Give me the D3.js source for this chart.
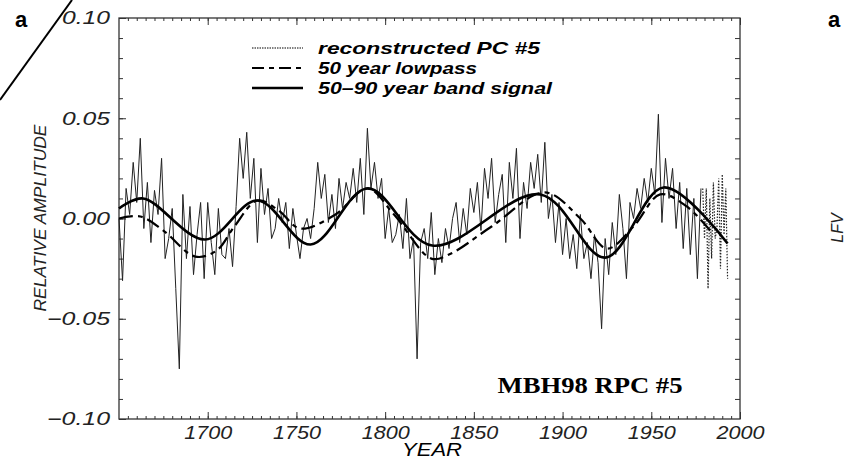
<!DOCTYPE html>
<html><head><meta charset="utf-8">
<script src="https://cdn.jsdelivr.net/npm/d3@7"></script>
<style>body{margin:0;background:#fff}</style>
</head><body>
<svg width="861" height="460" font-family="Liberation Sans, Arial, sans-serif"></svg>
<script>
// reconstructed PC #5, every 2 years 1650-1978
const pcStart = 1650, pcStep = 2;
const pcValues = [
  0.000,-0.031,0.015,0.002,0.028, 0.008,0.040,-0.005,0.018,-0.012,
  0.014,0.002,0.030,-0.020,-0.010, 0.005,-0.035,-0.075,0.012,-0.020,
  0.006,-0.028,-0.008,0.008,-0.030, 0.008,-0.012,-0.028,0.005,-0.018,
  -0.020,-0.005,-0.024,0.006,0.040, 0.020,0.043,0.010,0.030,-0.012,
  0.025,0.002,0.015,-0.010,-0.005, 0.010,-0.002,0.008,-0.015,0.005,
  -0.008,-0.020,-0.005,0.000,-0.010, 0.005,0.028,0.010,0.022,-0.002,
  0.012,-0.005,0.020,0.005,0.018, 0.010,0.025,0.008,0.030,0.002,
  0.045,0.015,0.028,0.010,0.020, -0.010,0.005,-0.012,-0.008,0.002,
  -0.015,0.010,-0.020,-0.010,-0.070, -0.012,-0.005,-0.020,0.003,-0.028,
  -0.010,-0.022,-0.005,-0.015,0.000, 0.008,-0.012,0.005,-0.008,0.015,
  0.003,0.018,-0.006,0.025,0.010, 0.030,-0.002,0.012,0.022,-0.012,
  0.028,0.010,0.035,-0.010,0.018, 0.005,0.028,0.015,0.032,0.008,
  0.038,0.000,0.012,-0.012,0.008, -0.018,0.000,-0.020,-0.008,-0.025,
  0.002,-0.020,-0.012,-0.030,-0.008, -0.022,-0.055,-0.010,-0.028,-0.002,
  -0.018,0.012,-0.005,-0.030,0.008, 0.000,0.015,0.005,0.020,0.008,
  0.025,0.012,0.052,-0.002,0.030, 0.010,0.025,-0.005,0.018,-0.015,
  0.015,-0.018,0.010,-0.030,0.015
];
// dotted tail, yearly 1979-1993
const tailYears = [1979,1980,1981,1982,1983,1984,1985,1986,1987,1988,1989,1990,1991,1992,1993];
const tailValues = [0.015,-0.010,0.015,-0.035,0.010,-0.020,0.018,-0.010,-0.005,0.020,-0.025,0.022,-0.008,0.015,-0.030];
// 50 year lowpass
const lowYears = [1650,1662,1675,1693,1705,1715,1728,1740,1752,1772,1790,1805,1826,1836,1860,1890,1910,1925,1940,1955,1970,1985];
const lowValues = [0.000,0.001,-0.006,-0.019,-0.016,-0.004,0.009,0.004,-0.005,0.002,0.015,0.002,-0.020,-0.018,-0.004,0.013,0.000,-0.015,-0.004,0.012,0.006,-0.008];
// 50-90 year band signal
const bandYears = [1650,1663.5,1698.5,1728,1758,1790,1826.5,1887.5,1924,1957,1993];
const bandValues = [0.005,0.010,-0.0105,0.009,-0.013,0.015,-0.0135,0.012,-0.0195,0.0155,-0.0125];

const pcYears = pcValues.map((_, i) => pcStart + i * pcStep);

const svg = d3.select("svg");
const x = d3.scaleLinear().domain([1650, 2000]).range([119, 740]);
const y = d3.scaleLinear().domain([-0.10, 0.10]).range([419, 18]);

// frame
svg.append("rect").attr("x", 119).attr("y", 18).attr("width", 621).attr("height", 401)
  .attr("fill", "none").attr("stroke", "#333").attr("stroke-width", 1.3);

const axB = svg.append("g").attr("transform", "translate(0,419)")
  .call(d3.axisBottom(x).tickValues(d3.range(1700, 2001, 50)).tickFormat(d3.format("d")).tickSize(-7).tickPadding(7));
const axBm = svg.append("g").attr("transform", "translate(0,419)")
  .call(d3.axisBottom(x).tickValues(d3.range(1655, 2000, 5)).tickFormat("").tickSize(-3));
const axT = svg.append("g").attr("transform", "translate(0,18)")
  .call(d3.axisTop(x).tickValues(d3.range(1700, 2001, 50)).tickFormat("").tickSize(-7));
const axTm = svg.append("g").attr("transform", "translate(0,18)")
  .call(d3.axisTop(x).tickValues(d3.range(1655, 2000, 5)).tickFormat("").tickSize(-3));
const axL = svg.append("g").attr("transform", "translate(119,0)")
  .call(d3.axisLeft(y).tickValues([-0.10, -0.05, 0, 0.05, 0.10]).tickFormat(d => d3.format(".2f")(d).replace("-", "\u2212")).tickSize(-7).tickPadding(9));
const axLm = svg.append("g").attr("transform", "translate(119,0)")
  .call(d3.axisLeft(y).tickValues(d3.range(-9, 10).map(v => v / 100)).tickFormat("").tickSize(-4));
const axR = svg.append("g").attr("transform", "translate(740,0)")
  .call(d3.axisRight(y).tickValues(d3.range(-9, 10).map(v => v / 100)).tickFormat("").tickSize(-5));
[axB, axBm, axT, axTm, axL, axLm, axR].forEach(a => {
  a.select(".domain").remove();
  a.attr("font-family", null).attr("font-size", null);
  a.selectAll("line").attr("stroke", "#333");
  a.selectAll("text").style("font-size", "18px").style("font-style", "italic").attr("fill", "#222")
    .attr("lengthAdjust", "spacingAndGlyphs")
    .attr("textLength", function() { return this.textContent.length > 4 ? 63 : 48; });
});

const line = d3.line().x(d => x(d[0])).y(d => y(d[1]));
const smoothB = d3.line().curve(d3.curveCatmullRom.alpha(0.5)).x(d => x(d[0])).y(d => y(d[1]));

svg.append("path").attr("d", line(pcYears.map((yr, i) => [yr, pcValues[i]])))
  .attr("fill", "none").attr("stroke", "#222").attr("stroke-width", 1);
svg.append("path").attr("d", line(tailYears.map((yr, i) => [yr, tailValues[i]])))
  .attr("fill", "none").attr("stroke", "#222").attr("stroke-width", 1.2).attr("stroke-dasharray", "1.5,1.5");
svg.append("path").attr("d", smoothB(lowYears.map((yr, i) => [yr, lowValues[i]])))
  .attr("fill", "none").attr("stroke", "#000").attr("stroke-width", 2.2).attr("stroke-dasharray", "14,5,5,5");
svg.append("path").attr("d", smoothB(bandYears.map((yr, i) => [yr, bandValues[i]])))
  .attr("fill", "none").attr("stroke", "#000").attr("stroke-width", 2.6);

// legend
const legend = [
  {label: "reconstructed PC #5", dash: "1.5,1", w: 1, len: 222},
  {label: "50 year lowpass", dash: "12,5,5,5", w: 2.2, len: 159},
  {label: "50\u201390 year band signal", dash: null, w: 2.6, len: 234}
];
legend.forEach((d, i) => {
  const ly = 48 + i * 20;
  svg.append("line").attr("x1", 252).attr("x2", 303).attr("y1", ly).attr("y2", ly)
    .attr("stroke", "#000").attr("stroke-width", d.w).attr("stroke-dasharray", d.dash);
  svg.append("text").attr("x", 318).attr("y", ly + 6).attr("font-size", 17).attr("font-style", "italic")
    .attr("font-weight", 600).attr("textLength", d.len).attr("lengthAdjust", "spacingAndGlyphs").text(d.label);
});

svg.append("text").attr("x", 590).attr("y", 393).attr("text-anchor", "middle")
  .attr("font-family", "Liberation Serif, Times New Roman, serif").attr("font-weight", "bold").attr("font-size", 24)
  .attr("textLength", 185).attr("lengthAdjust", "spacingAndGlyphs").text("MBH98 RPC #5");
svg.append("text").attr("x", 432).attr("y", 456).attr("text-anchor", "middle")
  .attr("font-size", 18).attr("font-style", "italic").attr("textLength", 60).attr("lengthAdjust", "spacingAndGlyphs").text("YEAR");
svg.append("text").attr("transform", "translate(46,218) rotate(-90)").attr("text-anchor", "middle")
  .attr("font-size", 17).attr("font-style", "italic").attr("fill", "#222")
  .attr("textLength", 187).attr("lengthAdjust", "spacingAndGlyphs").text("RELATIVE AMPLITUDE");
svg.append("text").attr("transform", "translate(843,228) rotate(-90)").attr("text-anchor", "middle")
  .attr("font-size", 16).attr("font-style", "italic").attr("fill", "#222").text("LFV");
svg.append("text").attr("x", 15).attr("y", 27).attr("font-size", 22).attr("font-weight", "bold").text("a");
svg.append("text").attr("x", 828).attr("y", 27).attr("font-size", 22).attr("font-weight", "bold").text("a");
svg.append("line").attr("x1", 0).attr("y1", 100).attr("x2", 72).attr("y2", 0)
  .attr("stroke", "#000").attr("stroke-width", 2);
</script>
</body></html>
